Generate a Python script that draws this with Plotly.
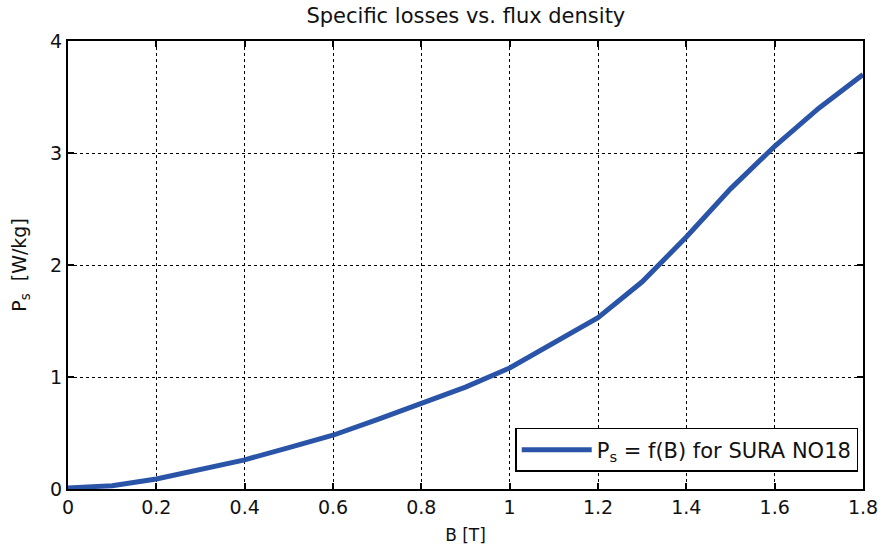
import plotly.graph_objects as go

# Flux density B [T] and specific losses P_s [W/kg]
flux_density = [0.0, 0.1, 0.2, 0.3, 0.4, 0.5, 0.6, 0.7, 0.8, 0.9,
                1.0, 1.1, 1.2, 1.3, 1.4, 1.5, 1.6, 1.7, 1.8]
specific_losses = [0.01, 0.03, 0.09, 0.17, 0.26, 0.37, 0.48, 0.62, 0.76, 0.91,
                   1.08, 1.30, 1.53, 1.85, 2.25, 2.68, 3.06, 3.40, 3.70]

x_ticks = [0, 0.2, 0.4, 0.6, 0.8, 1, 1.2, 1.4, 1.6, 1.8]
x_tick_labels = ["0", "0.2", "0.4", "0.6", "0.8", "1", "1.2", "1.4", "1.6", "1.8"]
y_ticks = [0, 1, 2, 3, 4]

FONT = "DejaVu Sans"

fig = go.Figure()
fig.add_trace(go.Scatter(
    x=flux_density, y=specific_losses, mode="lines",
    name="P<sub>s</sub> = f(B) for SURA NO18",
    line=dict(color="#2a54a8", width=5),
))

axis_common = dict(
    showline=True, linecolor="black", linewidth=2, mirror="ticks",
    ticks="inside", ticklen=6, tickwidth=1.5, tickcolor="black",
    showgrid=True, gridcolor="black", gridwidth=1, griddash="dot",
    zeroline=False, automargin=False,
    tickfont=dict(family=FONT, size=19, color="#111"),
)

fig.update_xaxes(range=[0, 1.8], tickvals=x_ticks, ticktext=x_tick_labels,
                 title=dict(text="B [T]", font=dict(family=FONT, size=17, color="#111"), standoff=12),
                 **axis_common)
fig.update_yaxes(range=[0, 4], tickvals=y_ticks,
                 title=dict(text="P<sub>s</sub>  [W/kg]", font=dict(family=FONT, size=19, color="#111"), standoff=18),
                 **axis_common)

fig.update_layout(
    width=884, height=549,
    margin=dict(l=68, r=21, t=41, b=60),
    paper_bgcolor="white", plot_bgcolor="white",
    title=dict(text="Specific losses vs. flux density", x=0.527, xanchor="center",
               y=0.972, yanchor="middle",
               font=dict(family=FONT, size=21, color="#111")),
    showlegend=True,
    legend=dict(x=0.994, xanchor="right", y=0.038, yanchor="bottom",
                bgcolor="white", bordercolor="black", borderwidth=1.5,
                font=dict(family=FONT, size=21, color="#111"),
                itemwidth=70),
)

fig.write_html("out.html")
